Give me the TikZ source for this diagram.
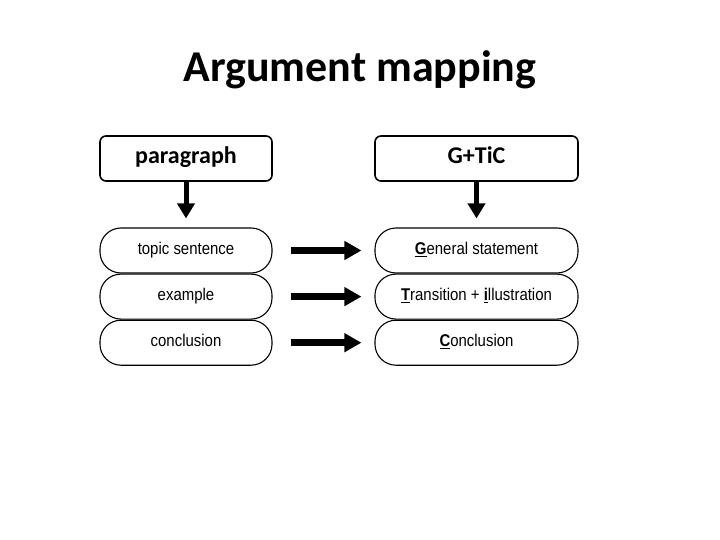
\documentclass[tikz,border=0pt]{standalone}
\usepackage{fontspec}
\setmainfont{Liberation Sans}[FakeStretch=0.88]
\newfontfamily\calfont{Carlito}
\usepackage{tikz}
\usetikzlibrary{arrows.meta,positioning}

\begin{document}
\begin{tikzpicture}[x=1pt,y=-1pt,node distance=0pt,
  head/.style={draw,line width=1.6pt,rounded corners=6pt,minimum height=45pt,inner sep=0pt,
    text height=15pt,text depth=5pt,font=\calfont\fontsize{24}{28}\selectfont\bfseries},
  pill/.style={draw,line width=1.1pt,rounded corners=21pt,minimum height=45pt,inner sep=0pt,
    text height=12pt,text depth=3.5pt,font=\fontsize{17}{20}\selectfont},
  down/.style={-{Triangle[length=15pt,width=17pt]},line width=5pt,shorten >=9pt},
  maps/.style={-{Triangle[length=17pt,width=18pt]},line width=6.5pt,shorten <=18pt,shorten >=13pt}]
\useasboundingbox (0,0) rectangle (720,540);
\node[font=\calfont\fontsize{44}{50}\selectfont\bfseries,anchor=base] (title) at (360,82) {Argument mapping};
% left column
\node[head,minimum width=172pt] (para) at (186,158.5) {paragraph};
\node[pill,minimum width=172pt] (topic) at (186,250.5) {topic sentence};
\node[pill,minimum width=172pt,below=of topic] (exmpl) {example};
\node[pill,minimum width=172pt,below=of exmpl] (concl) {conclusion};
% right column
\node[head,minimum width=203pt] (gtic) at (476.5,158.5) {G+TiC};
\node[pill,minimum width=203pt] (gen) at (476.5,250.5) {\textbf{\underline{G}}eneral statement};
\node[pill,minimum width=203pt,below=of gen] (trans) {\textbf{\underline{T}}ransition + \textbf{\underline{i}}llustration};
\node[pill,minimum width=203pt,below=of trans] (gconcl) {\textbf{\underline{C}}onclusion};
\draw[down] (para) -- (topic);
\draw[down] (gtic) -- (gen);
\draw[maps] (topic) -- (gen);
\draw[maps] (exmpl) -- (trans);
\draw[maps] (concl) -- (gconcl);
\end{tikzpicture}
\end{document}
